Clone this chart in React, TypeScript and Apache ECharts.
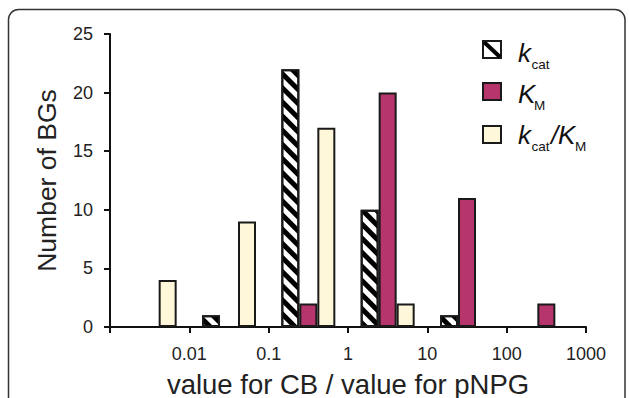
import React, { useEffect, useRef } from "react";
import * as echarts from "echarts";

const bins = ["0.001-0.01", "0.01-0.1", "0.1-1", "1-10", "10-100", "100-1000"];
const tickLabels = ["", "0.01", "0.1", "1", "10", "100", "1000"];
const kcat = [0, 1, 22, 10, 1, 0];
const km = [0, 0, 2, 20, 11, 2];
const kcatKm = [4, 9, 17, 2, 0, 0];

const FONT = "'Liberation Sans', Arial, sans-serif";
const BORDER = "#1a1a1a";
const KM_COLOR = "#B5356C";
const RATIO_COLOR = "#FFF7D9";

const noZero = (a: number[]) => a.map((v) => (v === 0 ? null : v));

export default function App() {
  const ref = useRef<HTMLDivElement>(null);
  useEffect(() => {
    if (!ref.current) return;
    const chart = echarts.init(ref.current, null, { renderer: "svg" });
    const barCommon = {
      type: "bar" as const,
      xAxisIndex: 0,
      yAxisIndex: 0,
      barWidth: 18,
      barGap: "0%",
    };
    const italic = { fontFamily: FONT, fontStyle: "italic", fontSize: 26, fill: "#111" };
    const sub = { fontFamily: FONT, fontSize: 13.5, fill: "#111" };
    chart.setOption({
      animation: false,
      grid: { left: 110, right: 43, top: 34, bottom: 71, containLabel: false, outerBoundsMode: "none" },
      xAxis: [
        {
          type: "category",
          data: bins,
          boundaryGap: true,
          axisLine: { lineStyle: { color: "#111", width: 2 } },
          axisTick: { show: true, length: 6, lineStyle: { color: "#111", width: 2 } },
          axisLabel: { show: false },
          splitLine: { show: false },
        },
        {
          type: "value",
          position: "bottom",
          min: 0,
          max: 6,
          interval: 1,
          axisLine: { show: false },
          axisTick: { show: false },
          splitLine: { show: false },
          axisLabel: {
            margin: 18,
            fontFamily: FONT,
            fontSize: 18,
            color: "#222",
            formatter: (v: number) => tickLabels[Math.round(v)] ?? "",
          },
          name: "value for CB / value for pNPG",
          nameLocation: "middle",
          nameGap: 43,
          nameTextStyle: { fontFamily: FONT, fontSize: 27.5, color: "#222" },
        },
      ],
      yAxis: {
        type: "value",
        min: 0,
        max: 25,
        interval: 5,
        axisLine: { show: true, lineStyle: { color: "#111", width: 2 } },
        axisTick: { show: true, length: 6, lineStyle: { color: "#111", width: 2 } },
        splitLine: { show: false },
        axisLabel: { margin: 17, fontFamily: FONT, fontSize: 18, color: "#222" },
        name: "Number of BGs",
        nameLocation: "middle",
        nameGap: 50,
        nameTextStyle: { fontFamily: FONT, fontSize: 26.5, color: "#222" },
      },
      series: [
        {
          ...barCommon,
          name: "kcat",
          data: noZero(kcat),
          itemStyle: {
            color: "#fff",
            borderColor: BORDER,
            borderWidth: 2,
            decal: {
              symbol: "rect",
              symbolSize: 1,
              color: "#000",
              backgroundColor: "#fff",
              dashArrayX: [1, 0],
              dashArrayY: [5, 5],
              rotation: Math.PI / 4,
            },
          },
        },
        {
          ...barCommon,
          name: "KM",
          data: noZero(km),
          itemStyle: { color: KM_COLOR, borderColor: BORDER, borderWidth: 2 },
        },
        {
          ...barCommon,
          name: "kcat/KM",
          data: noZero(kcatKm),
          itemStyle: { color: RATIO_COLOR, borderColor: BORDER, borderWidth: 2 },
        },
      ],
      graphic: [
        {
          type: "rect",
          shape: { x: 8.5, y: 9.5, width: 616.5, height: 430, r: 10 },
          style: { fill: "none", stroke: "#333", lineWidth: 1.5 },
          silent: true,
        },
        // legend icons
        {
          type: "rect",
          shape: { x: 483, y: 41, width: 18, height: 17 },
          style: { fill: "#fff", stroke: BORDER, lineWidth: 2 },
        },
        {
          type: "line",
          shape: { x1: 484, y1: 42, x2: 500, y2: 57 },
          style: { stroke: "#000", lineWidth: 4 },
        },
        {
          type: "rect",
          shape: { x: 483, y: 83, width: 18, height: 17 },
          style: { fill: KM_COLOR, stroke: BORDER, lineWidth: 2 },
        },
        {
          type: "rect",
          shape: { x: 483, y: 126, width: 18, height: 17 },
          style: { fill: RATIO_COLOR, stroke: BORDER, lineWidth: 2 },
        },
        // legend texts
        { type: "text", x: 518, y: 52.5, style: { ...italic, text: "k", verticalAlign: "middle" } },
        { type: "text", x: 531.5, y: 64, style: { ...sub, text: "cat", verticalAlign: "middle" } },
        { type: "text", x: 518, y: 94, style: { ...italic, text: "K", verticalAlign: "middle" } },
        { type: "text", x: 534, y: 105, style: { ...sub, text: "M", verticalAlign: "middle" } },
        { type: "text", x: 518, y: 134.5, style: { ...italic, text: "k", verticalAlign: "middle" } },
        { type: "text", x: 531.5, y: 146, style: { ...sub, text: "cat", verticalAlign: "middle" } },
        { type: "text", x: 551, y: 134.5, style: { ...italic, text: "/", verticalAlign: "middle" } },
        { type: "text", x: 558, y: 134.5, style: { ...italic, text: "K", verticalAlign: "middle" } },
        { type: "text", x: 575, y: 146, style: { ...sub, text: "M", verticalAlign: "middle" } },
      ],
    });
    return () => chart.dispose();
  }, []);
  return (
    <div
      ref={ref}
      style={{ position: "absolute", left: 0, top: 0, width: 629, height: 398, background: "#fff" }}
    />
  );
}
